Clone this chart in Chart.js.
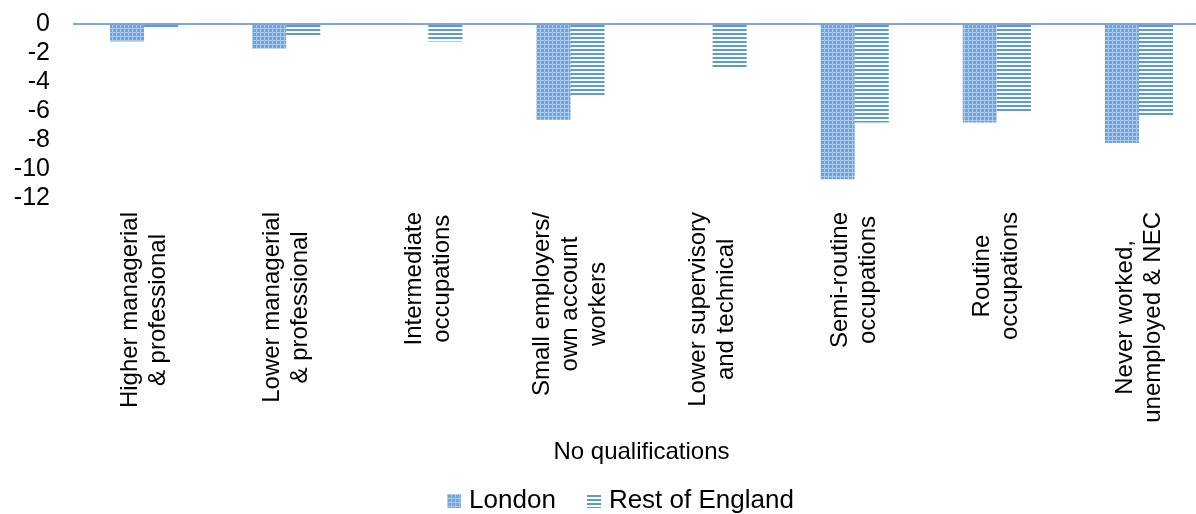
<!DOCTYPE html>
<html>
<head>
<meta charset="utf-8">
<script src="https://cdn.jsdelivr.net/npm/chart.js@4.4.1/dist/chart.umd.min.js"></script>
<style>
  html, body { margin: 0; padding: 0; background: #fff; overflow: hidden; }
  #wrap { width: 1246px; height: 514px; }
</style>
</head>
<body>
<div id="wrap"><canvas id="chartCanvas"></canvas></div>
<script>
const categories = [
  ["Higher managerial", "& professional"],
  ["Lower managerial", "& professional"],
  ["Intermediate", "occupations"],
  ["Small employers/", "own account", "workers"],
  ["Lower supervisory", "and technical"],
  ["Semi-routine", "occupations"],
  ["Routine", "occupations"],
  ["Never worked,", "unemployed & NEC"]
];
const londonValues = [-1.2, -1.7, 0, -6.6, 0, -10.7, -6.8, -8.2];
const restValues = [-0.35, -0.9, -1.2, -5.0, -3.0, -6.8, -6.1, -6.4];
const yTicks = [0, -2, -4, -6, -8, -10, -12];
const axisTitle = "No qualifications";

const fontFamily = "'Liberation Sans', Arial, sans-serif";

function drawGrid(g, x, y, w, h) {
  g.fillStyle = "#6fa3dc";
  g.fillRect(x, y, w, h);
  g.fillStyle = "#a8c8ec";
  for (let i = 0; i < h; i += 4) g.fillRect(x, y + i, w, 1);
  for (let i = 0; i < w; i += 4) g.fillRect(x + i, y, 1, h);
}

function drawStripes(g, x, y, w, h) {
  g.fillStyle = "#ffffff";
  g.fillRect(x, y, w, h);
  g.fillStyle = "#5b9bd5";
  for (let i = 1; i < h; i += 4) g.fillRect(x, y + i, w, Math.min(2, h - i));
}

function makePattern(drawFn) {
  const c = document.createElement("canvas");
  c.width = 4;
  c.height = 4;
  const g = c.getContext("2d");
  drawFn(g, 0, 0, 4, 4);
  return g.createPattern(c, "repeat");
}

// legend swatch: 14px square at the right of a wider transparent image
function makeSwatch(drawFn) {
  const c = document.createElement("canvas");
  c.width = 40;
  c.height = 14;
  const g = c.getContext("2d");
  drawFn(g, 26, 0, 14, 14);
  return c;
}

const swatches = [makeSwatch(drawGrid), makeSwatch(drawStripes)];

// draws the rotated category labels, lines centred on each other
const rotatedLabels = {
  id: "rotatedLabels",
  afterDraw(chart) {
    const xs = chart.scales.x;
    const ctx = chart.ctx;
    const top = chart.chartArea.bottom + 14;
    const lineGap = 28;
    ctx.save();
    ctx.font = "24px " + fontFamily;
    ctx.fillStyle = "#000";
    ctx.textBaseline = "middle";
    ctx.textAlign = "center";
    categories.forEach((lines, i) => {
      const x = xs.getPixelForTick(i);
      const maxW = Math.max(...lines.map(l => ctx.measureText(l).width));
      ctx.save();
      ctx.translate(x, top);
      ctx.rotate(-Math.PI / 2);
      lines.forEach((line, j) => {
        ctx.fillText(line, -maxW / 2, (j - (lines.length - 1) / 2) * lineGap);
      });
      ctx.restore();
    });
    ctx.restore();
  }
};

const ctx = document.getElementById("chartCanvas").getContext("2d");
const chart = new Chart(ctx, {
  type: "bar",
  data: {
    labels: categories,
    datasets: [
      {
        label: "London",
        data: londonValues,
        backgroundColor: makePattern(drawGrid),
        borderWidth: 0
      },
      {
        label: "Rest of England",
        data: restValues,
        backgroundColor: makePattern(drawStripes),
        borderWidth: 0
      }
    ]
  },
  options: {
    responsive: true,
    maintainAspectRatio: false,
    animation: false,
    layout: {
      padding: { top: 24, right: 36, bottom: -10, left: 10 }
    },
    datasets: {
      bar: { categoryPercentage: 0.48, barPercentage: 1.0 }
    },
    plugins: {
      tooltip: { enabled: false },
      legend: {
        position: "bottom",
        labels: {
          font: { family: fontFamily, size: 26 },
          color: "#000",
          usePointStyle: true,
          pointStyleWidth: 30,
          boxHeight: 14,
          padding: 10,
          generateLabels(chart) {
            const items = Chart.defaults.plugins.legend.labels.generateLabels(chart);
            items.forEach((it, i) => { it.pointStyle = swatches[i]; });
            return items;
          }
        }
      }
    },
    scales: {
      x: {
        grid: { display: false },
        border: { display: false },
        ticks: { display: false },
        title: {
          display: true,
          text: axisTitle,
          color: "#000",
          font: { family: fontFamily, size: 24 },
          padding: { top: 4, bottom: 11 }
        },
        afterFit(scale) {
          scale.height = 280;
        }
      },
      y: {
        min: -12,
        max: 0,
        afterBuildTicks(scale) {
          scale.ticks = yTicks.slice().sort((a, b) => a - b).map(v => ({ value: v }));
        },
        border: { display: false },
        grid: {
          drawTicks: false,
          lineWidth: 2,
          color: c => (c.tick && c.tick.value === 0 ? "#7ea6d8" : "rgba(0,0,0,0)")
        },
        ticks: {
          color: "#000",
          padding: 23,
          autoSkip: false,
          font: { family: fontFamily, size: 25 }
        },
        afterFit(scale) {
          scale.width = 63;
          scale.paddingTop = 0;
          scale.paddingBottom = 0;
        }
      }
    }
  },
  plugins: [rotatedLabels]
});
</script>
</body>
</html>
